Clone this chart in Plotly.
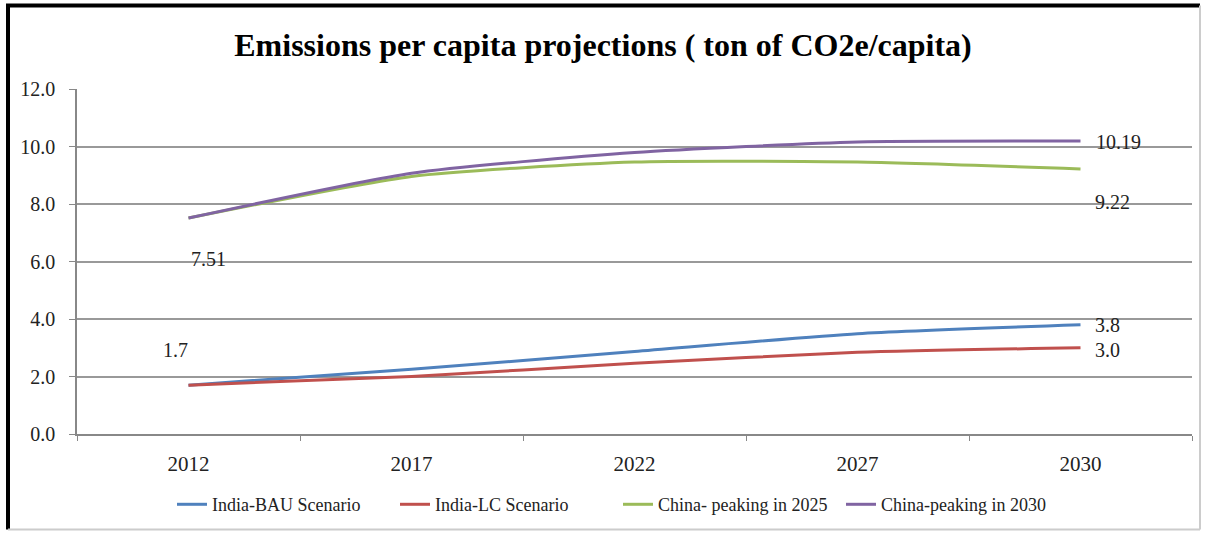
import plotly.graph_objects as go

# Projection years (categorical x axis)
years = ["2012", "2017", "2022", "2027", "2030"]

# Emissions per capita, ton CO2e/capita
india_bau = [1.7, 2.25, 2.87, 3.49, 3.8]
india_lc = [1.7, 2.0, 2.46, 2.84, 3.0]
china_2025 = [7.51, 8.96, 9.46, 9.46, 9.22]
china_2030 = [7.51, 9.07, 9.79, 10.16, 10.19]

series = [
    ("India-BAU Scenario", india_bau, "#4F81BD"),
    ("India-LC Scenario", india_lc, "#C0504D"),
    ("China- peaking in 2025", china_2025, "#9BBB59"),
    ("China-peaking in 2030", china_2030, "#8064A2"),
]

SERIF = "Liberation Serif, Times New Roman, serif"

W, H = 1206, 535
ML, MR, MT, MB = 77, 14, 89, 99
PW, PH = W - ML - MR, H - MT - MB

fig = go.Figure()
for name, vals, color in series:
    fig.add_trace(go.Scatter(
        x=years, y=vals, name=name, mode="lines",
        line=dict(color=color, width=3, shape="spline", smoothing=0.6),
    ))

# Value labels: (series values, index, x shift, y shift)
labels = [
    (china_2030, 0, 20, -41),
    (india_bau, 0, -13, 35),
    (china_2030, 4, 38, -1),
    (china_2025, 4, 32, -33),
    (india_bau, 4, 27, 0),
    (india_lc, 4, 27, -2),
]
for vals, i, dx, dy in labels:
    fig.add_annotation(
        x=i, y=vals[i], xref="x", yref="y",
        text=f"{vals[i]}", showarrow=False,
        xshift=dx, yshift=dy,
        font=dict(family=SERIF, size=20, color="#222"),
    )


def px_x(px):
    return (px - ML) / PW


def px_y(py):
    return (H - MB - py) / PH


# Frame around the whole chart
frame = [
    (px_x(6), px_y(5), px_x(1200), px_y(5), "black", 4),
    (px_x(8), px_y(5), px_x(8), px_y(532), "black", 4),
    (px_x(1200), px_y(5), px_x(1200), px_y(532), "#cccccc", 2),
    (px_x(8), px_y(532), px_x(1200), px_y(532), "#cccccc", 2),
]
for x0, y0, x1, y1, c, w in frame:
    fig.add_shape(type="line", xref="paper", yref="paper",
                  x0=x0, y0=y0, x1=x1, y1=y1,
                  line=dict(color=c, width=w))

fig.update_layout(
    width=W, height=H,
    margin=dict(l=ML, r=MR, t=MT, b=MB),
    paper_bgcolor="white", plot_bgcolor="white",
    title=dict(
        text="<b>Emissions per capita projections ( ton of CO2e/capita)</b>",
        x=0.5, xanchor="center", y=1 - 45 / H, yanchor="middle",
        font=dict(family=SERIF, size=32, color="black"),
    ),
    legend=dict(
        orientation="h", x=px_x(172), xanchor="left",
        y=px_y(507), yanchor="middle",
        font=dict(family=SERIF, size=18, color="#222"),
        itemwidth=30,
        entrywidthmode="pixels", entrywidth=178,
    ),
    showlegend=True,
)

fig.update_xaxes(
    type="category", range=[-0.5, 4.5],
    showline=True, linecolor="#888", linewidth=1.5,
    ticks="outside", tickson="boundaries", ticklen=5, tickcolor="#888",
    ticklabelstandoff=10,
    showgrid=False,
    tickfont=dict(family=SERIF, size=21, color="#222"),
)
fig.update_yaxes(
    range=[0, 12], dtick=2, tickformat=".1f",
    showline=True, linecolor="#888", linewidth=1.5,
    ticks="outside", ticklen=6, tickcolor="#888",
    ticklabelstandoff=10,
    showgrid=True, gridcolor="#999", gridwidth=1.5,
    zeroline=False,
    tickfont=dict(family=SERIF, size=20, color="#222"),
)

fig.write_html("out.html")
